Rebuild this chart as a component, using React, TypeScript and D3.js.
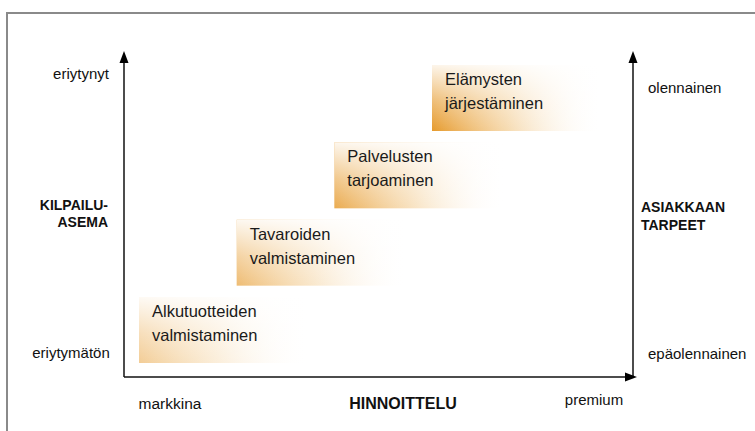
import * as d3 from "d3";
import { useEffect, useRef } from "react";

// stages along the diagonal, bottom-left to top-right
const stageLines: string[][] = [
  ["Alkutuotteiden", "valmistaminen"],
  ["Tavaroiden", "valmistaminen"],
  ["Palvelusten", "tarjoaminen"],
  ["Elämysten", "järjestäminen"],
];
const stageLevel = [0, 1, 2, 3];

const leftLabels = ["eriytynyt", "eriytymätön"];
const rightLabels = ["olennainen", "epäolennainen"];
const leftTitle = ["KILPAILU-", "ASEMA"];
const rightTitle = ["ASIAKKAAN", "TARPEET"];
const bottomLabels = ["markkina", "premium"];
const bottomTitle = "HINNOITTELU";

const W = 755;
const H = 431;
const FONT = "'Liberation Sans', Arial, sans-serif";

export default function App() {
  const ref = useRef<SVGSVGElement>(null);

  useEffect(() => {
    const svg = d3.select(ref.current);
    svg.selectAll("*").remove();

    const axis = { left: 124, right: 633, top: 51, bottom: 377 };

    // stage position scales
    const x = d3.scaleLinear().domain([0, 3]).range([139, 432]);
    const y = d3.scaleLinear().domain([0, 3]).range([297, 65]);
    const boxW = 170;
    const boxH = 66;
    const strength = d3.scaleLinear().domain([0, 3]).range([0.5, 1]);

    const defs = svg.append("defs");
    stageLevel.forEach((lv) => {
      const gh = defs
        .append("linearGradient")
        .attr("id", `gh${lv}`)
        .attr("x1", 0)
        .attr("x2", 1)
        .attr("y1", 0)
        .attr("y2", 0);
      gh.append("stop").attr("offset", 0).attr("stop-color", "#e69a2c").attr("stop-opacity", strength(lv));
      gh.append("stop").attr("offset", 0.45).attr("stop-color", "#eeb866").attr("stop-opacity", strength(lv) * 0.5);
      gh.append("stop").attr("offset", 1).attr("stop-color", "#ffffff").attr("stop-opacity", 0);
    });
    const gv = defs
      .append("linearGradient")
      .attr("id", "gv")
      .attr("x1", 0)
      .attr("x2", 0)
      .attr("y1", 0)
      .attr("y2", 1);
    gv.append("stop").attr("offset", 0).attr("stop-color", "#fff").attr("stop-opacity", 0.9);
    gv.append("stop").attr("offset", 0.55).attr("stop-color", "#fff").attr("stop-opacity", 0.35);
    gv.append("stop").attr("offset", 1).attr("stop-color", "#fff").attr("stop-opacity", 0);

    // outer frame
    svg
      .append("rect")
      .attr("x", 7)
      .attr("y", 13)
      .attr("width", W)
      .attr("height", H)
      .attr("fill", "#fff")
      .attr("stroke", "#8a8a8a")
      .attr("stroke-width", 2);

    // stage boxes
    const g = svg.append("g");
    const box = g
      .selectAll("g.stage")
      .data(stageLevel)
      .enter()
      .append("g")
      .attr("transform", (d) => `translate(${x(d)},${y(d)})`);
    box.append("rect").attr("width", boxW).attr("height", boxH).attr("fill", (d) => `url(#gh${d})`);
    box.append("rect").attr("width", boxW).attr("height", boxH).attr("fill", "url(#gv)");
    box
      .append("text")
      .attr("x", 13)
      .attr("y", 20)
      .attr("fill", "#1a1a1a")
      .style("font", `16.5px ${FONT}`)
      .selectAll("tspan")
      .data((d) => stageLines[d])
      .enter()
      .append("tspan")
      .attr("x", 13)
      .attr("dy", (_, i) => (i === 0 ? 0 : 24))
      .text((t) => t);

    // axes
    const line = (x1: number, y1: number, x2: number, y2: number) =>
      svg
        .append("line")
        .attr("x1", x1)
        .attr("y1", y1)
        .attr("x2", x2)
        .attr("y2", y2)
        .attr("stroke", "#111")
        .attr("stroke-width", 1.5);
    line(axis.left, axis.bottom, axis.left, axis.top + 8);
    line(axis.left, axis.bottom, axis.right - 2, axis.bottom);
    line(axis.right, axis.bottom, axis.right, axis.top + 8);
    const tri = (pts: [number, number][]) =>
      svg.append("path").attr("d", d3.line()(pts) + "Z").attr("fill", "#000");
    tri([[axis.left, axis.top], [axis.left - 4.5, axis.top + 12], [axis.left + 4.5, axis.top + 12]]);
    tri([[axis.right, axis.top], [axis.right - 4.5, axis.top + 12], [axis.right + 4.5, axis.top + 12]]);
    tri([[axis.right + 4, axis.bottom], [axis.right - 8, axis.bottom - 4.5], [axis.right - 8, axis.bottom + 4.5]]);

    const txt = (
      s: string,
      tx: number,
      ty: number,
      anchor: string,
      size: number,
      bold = false,
    ) =>
      svg
        .append("text")
        .attr("x", tx)
        .attr("y", ty)
        .attr("text-anchor", anchor)
        .attr("dominant-baseline", "central")
        .attr("fill", "#111")
        .style("font", `${bold ? "bold " : ""}${size}px ${FONT}`)
        .text(s);

    txt(leftLabels[0], 81, 73, "middle", 15);
    txt(leftLabels[1], 71, 352, "middle", 15);
    txt(rightLabels[0], 648, 87, "start", 15);
    txt(rightLabels[1], 648, 353, "start", 15);
    leftTitle.forEach((s, i) => txt(s, 108, 205 + i * 17, "end", 14, true));
    rightTitle.forEach((s, i) => txt(s, 641, 207 + i * 18, "start", 14, true));
    txt(bottomLabels[0], 170, 403, "middle", 15.5);
    txt(bottomLabels[1], 594, 399, "middle", 15);
    txt(bottomTitle, 403, 403, "middle", 16, true);
  }, []);

  return (
    <svg
      ref={ref}
      width={W}
      height={H}
      style={{ position: "absolute", left: 0, top: 0, background: "#fff" }}
    />
  );
}
